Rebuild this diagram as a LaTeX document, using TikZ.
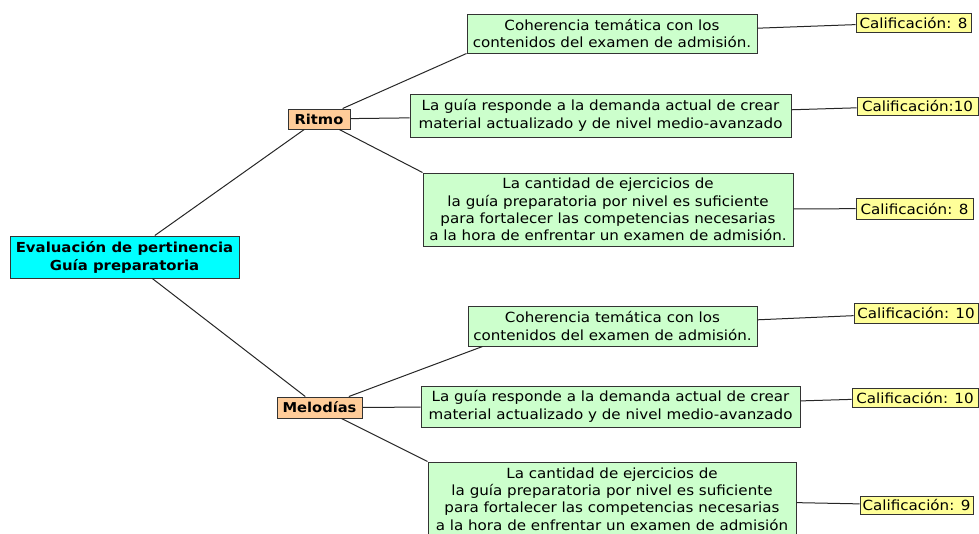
\documentclass[tikz,border=0pt]{standalone}
\usepackage{fontspec}
\setmainfont[FakeStretch=1.08]{DejaVu Sans}
\usepackage{tikz}
\definecolor{cian}{HTML}{00FFFF}
\definecolor{durazno}{HTML}{FFCC99}
\definecolor{verdeclaro}{HTML}{CCFFCC}
\definecolor{amarillo}{HTML}{FFFF99}
\tikzstyle{caja} = [draw=black!80, line width=1pt, inner sep=0pt, align=center, font=\fontsize{14}{17.4}\selectfont]
\tikzstyle{raiz} = [caja, fill=cian, font=\fontsize{13.8}{18}\selectfont\bfseries]
\tikzstyle{rama} = [caja, fill=durazno, font=\fontsize{13.6}{17}\selectfont\bfseries]
\tikzstyle{criterio} = [caja, fill=verdeclaro]
\tikzstyle{nota} = [caja, fill=amarillo]
\tikzstyle{liga} = [draw=black!85, line width=1pt]

\begin{document}
\begin{tikzpicture}[x=1pt, y=-1pt]
	\useasboundingbox (0,0) rectangle (979,533);
	\node[raiz, minimum width=229pt, minimum height=42pt](eval) at (124.5,257) {Evaluación de pertinencia\\Guía preparatoria};
	\node[rama, minimum width=62pt, minimum height=20pt](ritmo) at (319,119) {Ritmo};
	\node[rama, minimum width=85pt, minimum height=21pt](melodias) at (319.5,407.5) {Melodías};

	\node[criterio, minimum width=290pt, minimum height=39pt](ritmoA) at (612,33.5) {Coherencia temática con los\\contenidos del examen de admisión.};
	\node[criterio, minimum width=381pt, minimum height=43pt](ritmoB) at (600.5,115.5) {La guía responde a la demanda actual de crear\\material actualizado y de nivel medio-avanzado};
	\node[criterio, minimum width=370pt, minimum height=73pt](ritmoC) at (608,209.5) {La cantidad de ejercicios de\\la guía preparatoria por nivel es suficiente\\para fortalecer las competencias necesarias\\a la hora de enfrentar un examen de admisión.};

	\node[criterio, minimum width=289pt, minimum height=40pt](melA) at (612.5,326) {Coherencia temática con los\\contenidos del examen de admisión.};
	\node[criterio, minimum width=379pt, minimum height=41pt](melB) at (610.5,406.5) {La guía responde a la demanda actual de crear\\material actualizado y de nivel medio-avanzado};
	\node[criterio, minimum width=368pt, minimum height=74pt](melC) at (612,499) {La cantidad de ejercicios de\\la guía preparatoria por nivel es suficiente\\para fortalecer las competencias necesarias\\a la hora de enfrentar un examen de admisión};

	\node[nota, minimum width=115pt, minimum height=19pt](notaRA) at (913.5,22.5) {Calificación: 8};
	\node[nota, minimum width=121pt, minimum height=18pt](notaRB) at (917.5,106) {Calificación:10};
	\node[nota, minimum width=117pt, minimum height=21pt](notaRC) at (914.5,208.5) {Calificación: 8};
	\node[nota, minimum width=124pt, minimum height=20pt](notaMA) at (916,313) {Calificación: 10};
	\node[nota, minimum width=126pt, minimum height=19pt](notaMB) at (915,397.5) {Calificación: 10};
	\node[nota, minimum width=113pt, minimum height=18pt](notaMC) at (916.5,505) {Calificación: 9};

	\draw[liga] (eval) -- (ritmo);
	\draw[liga] (eval) -- (melodias);
	\draw[liga] (ritmo) -- (ritmoA.south west);
	\draw[liga] (ritmo) -- (ritmoB);
	\draw[liga] (ritmo) -- (ritmoC.north west);
	\draw[liga] (melodias) -- ([xshift=15pt]melA.south west);
	\draw[liga] (melodias) -- (melB);
	\draw[liga] (melodias) -- (melC.north west);
	\draw[liga] (ritmoA) -- (notaRA);
	\draw[liga] (ritmoB) -- (notaRB);
	\draw[liga] (ritmoC) -- (notaRC);
	\draw[liga] (melA) -- (notaMA);
	\draw[liga] (melB) -- (notaMB);
	\draw[liga] (melC) -- (notaMC);
\end{tikzpicture}
\end{document}
